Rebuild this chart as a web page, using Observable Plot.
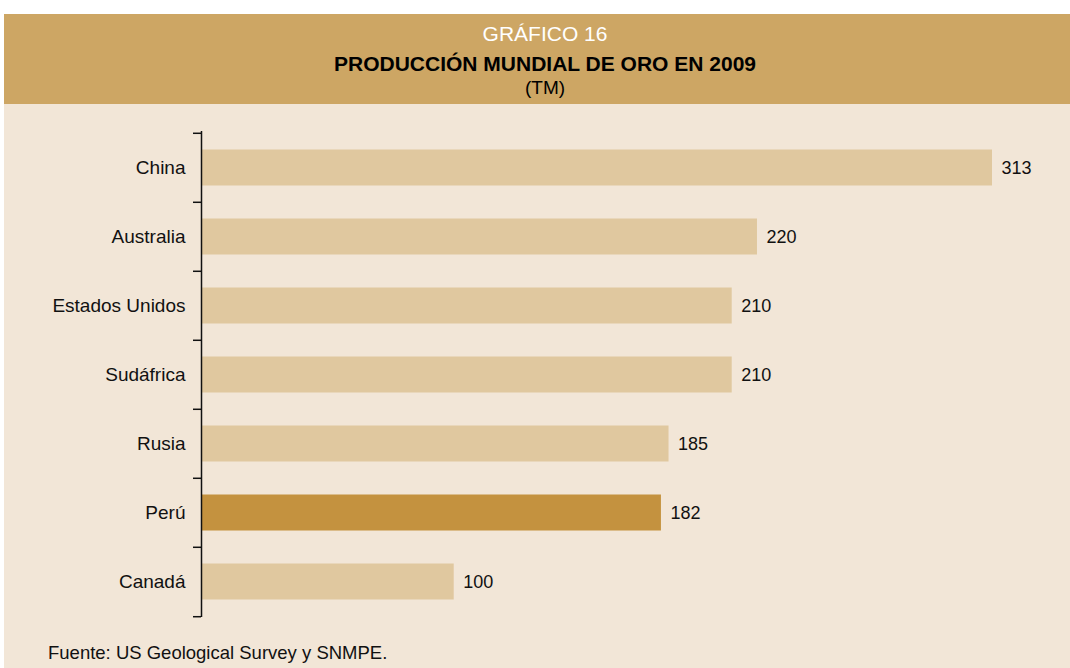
<!DOCTYPE html>
<html>
<head>
<meta charset="utf-8">
<script src="https://cdn.jsdelivr.net/npm/d3@7"></script>
<script src="https://cdn.jsdelivr.net/npm/@observablehq/plot@0.6"></script>
<style>
  html, body { margin: 0; padding: 0; background: #ffffff; }
  body { width: 1070px; height: 668px; overflow: hidden; position: relative; font-family: "Liberation Sans", Arial, sans-serif; }
  #panel { position: absolute; left: 4px; top: 14px; width: 1066px; height: 654px; background: #F2E6D7; }
  #header { position: absolute; left: 0; top: 0; width: 1066px; height: 90px; background: #CDA664; }
  .h1 { position: absolute; left: 0; width: 1082px; text-align: center; color: #ffffff; font-size: 21px; top: 8px; line-height: 24px; }
  .h2 { position: absolute; left: 0; width: 1082px; text-align: center; color: #000; font-size: 21px; font-weight: bold; top: 38px; line-height: 24px; }
  .h3 { position: absolute; left: 0; width: 1082px; text-align: center; color: #000; font-size: 19px; top: 63px; line-height: 22px; }
  #chart { position: absolute; left: 0; top: 90px; }
  #footer { position: absolute; left: 44px; top: 628px; font-size: 18.5px; line-height: 22px; color: #111; }
</style>
</head>
<body>
<div id="panel">
  <div id="header">
    <div class="h1">GRÁFICO 16</div>
    <div class="h2">PRODUCCIÓN MUNDIAL DE ORO EN 2009</div>
    <div class="h3">(TM)</div>
  </div>
  <div id="chart"></div>
  <div id="footer">Fuente: US Geological Survey y SNMPE.</div>
</div>
<script>
const countries = ["China", "Australia", "Estados Unidos", "Sudáfrica", "Rusia", "Perú", "Canadá"];
const production = [313, 220, 210, 210, 185, 182, 100];
const highlight = ["Perú"];

const data = countries.map((c, i) => ({country: c, value: production[i]}));

const W = 1066, H = 529, mt = 27, mb = 16, ml = 197, mr = 78;
const band = (H - mt - mb) / countries.length;
const tickUnits = 8 * 313 / (W - ml - mr);

const chart = Plot.plot({
  width: W,
  height: H,
  marginTop: mt,
  marginBottom: mb,
  marginLeft: ml,
  marginRight: mr,
  style: {background: "transparent", fontFamily: "Liberation Sans, Arial, sans-serif", fontSize: "19px", color: "#111"},
  x: {domain: [0, 313], axis: null},
  y: {domain: countries, padding: 0, label: null},
  marks: [
    Plot.barX(data, {
      x: "value", y: "country",
      fill: d => highlight.includes(d.country) ? "#C4923F" : "#E0C89F",
      insetTop: 16.5, insetBottom: 16.5, insetLeft: 1
    }),
    Plot.text(data, {x: "value", y: "country", text: d => String(d.value), textAnchor: "start", dx: 9, fontSize: 18, fill: "#111"}),
    Plot.axisY({tickSize: 0, tickPadding: 16, fontSize: 19, label: null}),
    Plot.ruleX([0], {stroke: "#111", strokeWidth: 1.5}),
    Plot.ruleY(countries, {y: d => d, x1: -tickUnits, x2: 0, dy: -band / 2, stroke: "#111", strokeWidth: 1.5}),
    Plot.ruleY(countries.slice(-1), {y: d => d, x1: -tickUnits, x2: 0, dy: band / 2, stroke: "#111", strokeWidth: 1.5})
  ]
});
document.getElementById("chart").appendChild(chart);
</script>
</body>
</html>
